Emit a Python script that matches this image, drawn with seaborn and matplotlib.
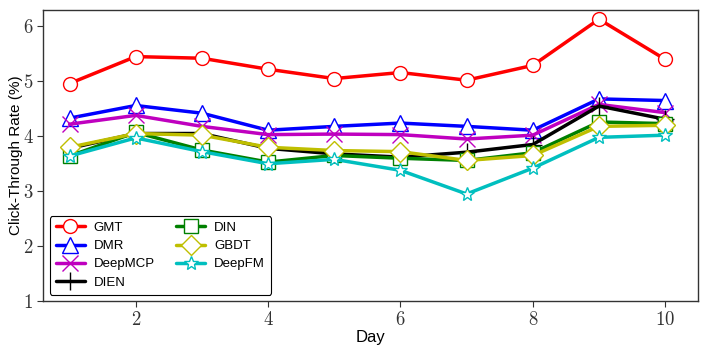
import matplotlib
matplotlib.use("Agg")
import matplotlib.pyplot as plt
import seaborn as sns
import pandas as pd
import numpy as np

days = [1, 2, 3, 4, 5, 6, 7, 8, 9, 10]
gmt = [4.96, 5.45, 5.42, 5.22, 5.05, 5.16, 5.02, 5.29, 6.13, 5.40]
dmr = [4.33, 4.56, 4.42, 4.11, 4.18, 4.24, 4.18, 4.11, 4.68, 4.65]
deepmcp = [4.22, 4.38, 4.18, 4.03, 4.04, 4.03, 3.95, 4.02, 4.58, 4.43]
dien = [3.78, 4.05, 4.05, 3.78, 3.68, 3.62, 3.71, 3.85, 4.55, 4.31]
din = [3.64, 4.07, 3.75, 3.53, 3.65, 3.60, 3.56, 3.70, 4.26, 4.23]
gbdt = [3.80, 4.05, 4.02, 3.80, 3.74, 3.72, 3.56, 3.65, 4.18, 4.20]
deepfm = [3.64, 3.97, 3.72, 3.50, 3.58, 3.38, 2.95, 3.42, 3.98, 4.02]
names = ["GMT", "DMR", "DeepMCP", "DIEN", "DIN", "GBDT", "DeepFM"]
series = [gmt, dmr, deepmcp, dien, din, gbdt, deepfm]
yticks = [1, 2, 3, 4, 5, 6]
xticks = [2, 4, 6, 8, 10]

colors = ["#ff0000", "#0000ff", "#bf00bf", "#000000", "#008000", "#bfbf00", "#00bfbf"]
markers = ["o", "^", "x", "+", "s", "D", "*"]
msizes = [10, 11, 11, 13, 9.5, 10.5, 10]

sns.set_theme(style="ticks", color_codes=False)
plt.rcParams["font.family"] = ["Liberation Sans", "DejaVu Sans"]
plt.rcParams["mathtext.fontset"] = "cm"
plt.rcParams["text.color"] = "black"
plt.rcParams["axes.labelcolor"] = "black"
plt.rcParams["xtick.color"] = "#333333"
plt.rcParams["ytick.color"] = "#333333"

fig = plt.figure(figsize=(7.06, 3.53), dpi=100)
ax = fig.add_axes([0.061, 0.147, 0.928, 0.825])

for name, vals, c, m, ms in zip(names, series, colors, markers, msizes):
    df = pd.DataFrame({"Day": days, "CTR": vals})
    filled = m not in ("x", "+")
    sns.lineplot(data=df, x="Day", y="CTR", ax=ax, color=c, linewidth=2.5,
                 marker=m, markersize=ms,
                 markerfacecolor="white" if filled else c,
                 markeredgecolor=c, markeredgewidth=1.0, label=name)

ax.set_xlim(0.6, 10.5)
ax.set_ylim(1, 6.3)
ax.set_xticks(xticks)
ax.set_xticklabels([f"${t}$" for t in xticks], fontsize=13.5)
ax.set_yticks(yticks)
ax.set_yticklabels([f"${t}$" for t in yticks], fontsize=13.5)
ax.set_xlabel("Day", fontsize=12, labelpad=1)
ax.set_ylabel("Click-Through Rate (%)", fontsize=11)
ax.yaxis.set_label_coords(-0.03, 0.5)
for s in ax.spines.values():
    s.set_color("#333333")
    s.set_linewidth(1.0)
ax.tick_params(direction="out", length=4, width=0.8, color="#333333", pad=3)

leg = ax.legend(loc="lower left", ncol=2, fontsize=9.5, frameon=True,
                fancybox=True, edgecolor="black", framealpha=1,
                handlelength=2.2, columnspacing=1.6, labelspacing=0.45,
                borderpad=0.45, handletextpad=0.7, bbox_to_anchor=(0.0, 0.0))
leg.get_frame().set_linewidth(0.8)
for t in leg.get_texts():
    t.set_color("black")

fig.savefig("out.png", dpi=100)
